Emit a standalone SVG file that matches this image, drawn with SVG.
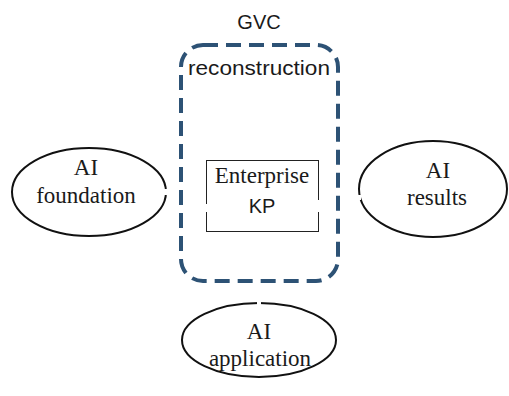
<svg xmlns="http://www.w3.org/2000/svg" width="509" height="396" viewBox="0 0 509 396">
<style>
.serif{font-family:"Liberation Serif","Times New Roman",serif;font-size:23px;fill:#1a1a1a;text-anchor:middle}
.sans{font-family:"Liberation Sans",Arial,sans-serif;font-size:20px;fill:#1a1a1a;text-anchor:middle}
.ell{fill:none;stroke:#111;stroke-width:2}
.gap{stroke:#fff;stroke-width:4}
</style>
<rect width="509" height="396" fill="#fff"/>
<g id="gvc">
<text class="sans" x="259" y="29">GVC</text>
<rect x="181" y="45" width="157" height="236" rx="22" ry="22" fill="none" stroke="#2d5275" stroke-width="4" stroke-dasharray="15 8"/>
<text class="sans" x="259" y="75" font-size="22" textLength="142" lengthAdjust="spacingAndGlyphs">reconstruction</text>
</g>
<g id="enterprise">
<rect x="206.5" y="160.5" width="112" height="71" fill="#fff" stroke="#222" stroke-width="1"/>
<line class="gap" x1="206.5" y1="204" x2="206.5" y2="212" stroke-width="3"/>
<line class="gap" x1="318.5" y1="200" x2="318.5" y2="212" stroke-width="3"/>
<text class="serif" x="262" y="183">Enterprise</text>
<text class="sans" x="262" y="213" font-size="21">KP</text>
</g>
<g id="foundation">
<ellipse class="ell" cx="89" cy="192" rx="77" ry="44"/>
<line class="gap" x1="166" y1="189" x2="166" y2="195"/>
<text class="serif" x="86" y="175">AI</text>
<text class="serif" x="86" y="203">foundation</text>
</g>
<g id="results">
<ellipse class="ell" cx="433" cy="189" rx="74" ry="48"/>
<line class="gap" x1="359" y1="195" x2="359" y2="200"/>
<text class="serif" x="438" y="178">AI</text>
<text class="serif" x="437" y="205">results</text>
</g>
<g id="application">
<ellipse class="ell" cx="259" cy="340" rx="77" ry="37"/>
<line class="gap" x1="257" y1="303" x2="261" y2="303"/>
<text class="serif" x="259" y="339">AI</text>
<text class="serif" x="260" y="366">application</text>
</g>
<g id="connectors"></g>
</svg>
